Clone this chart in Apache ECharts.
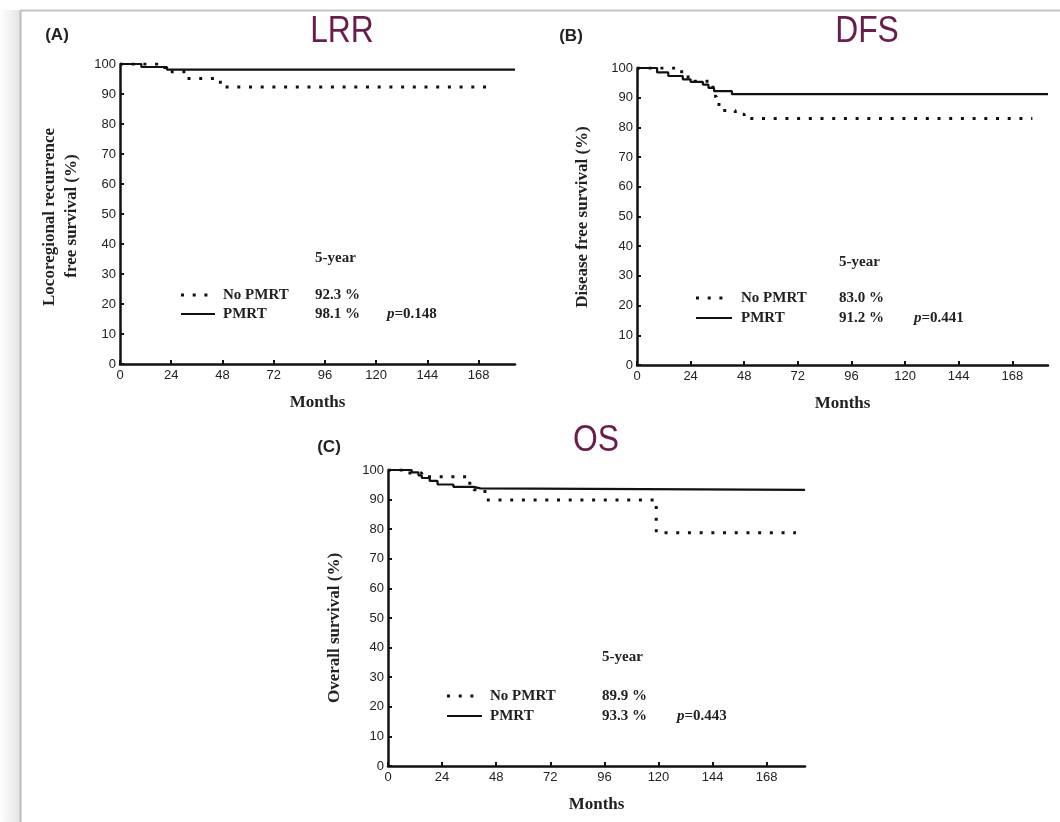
<!DOCTYPE html>
<html>
<head>
<meta charset="utf-8">
<title>Kaplan-Meier curves: LRR, DFS, OS by PMRT</title>
<script src="https://cdn.jsdelivr.net/npm/echarts@6/dist/echarts.min.js"></script>
<style>
  html, body { margin: 0; padding: 0; background: #fff; }
  #chart { width: 1060px; height: 822px; }
</style>
</head>
<body>
<div id="chart"></div>
<script>
// Month ticks shared by all three panels
const monthTicks = [0, 24, 48, 72, 96, 120, 144, 168];

// (A) Locoregional recurrence free survival: [month, %]
const lrrNoPmrt = [[0, 100], [21, 97.4], [31, 95.2], [47, 92.3], [173, 92.3]];
const lrrPmrt = [[0, 100], [10, 99.0], [22, 98.1], [185, 98.1]];

// (B) Disease free survival
const dfsNoPmrt = [[0, 100], [20, 97], [25, 95.5], [34, 90.5], [35.5, 87.7], [37.5, 85.7], [44, 84.4], [48, 83.0], [177, 83.0]];
const dfsPmrt = [[0, 100], [9, 98.5], [14, 97.3], [20.5, 96.2], [24, 95.3], [29.5, 94.4], [32, 93.3], [34.5, 92.2], [42.5, 91.2], [184, 91.2]];

// (C) Overall survival
const osNoPmrt = [[0, 100], [9, 99.0], [15, 97.7], [35, 95.5], [38, 93.3], [43, 89.9], [119, 78.8], [181, 78.8]];
const osPmrt = [[0, 100], [10.5, 99.2], [13.5, 98.2], [15, 97.3], [18.5, 96.3], [22, 95.1], [29, 94.3], [38, 93.8], [41, 93.3], [185, 93.3]];

// 5-year rates and log-rank p values printed in each panel
const fiveYearNoPmrt = ['92.3 %', '83.0 %', '89.9 %'];
const fiveYearPmrt = ['98.1 %', '91.2 %', '93.3 %'];
const pValues = ['0.148', '0.441', '0.443'];
const panelTitles = ['LRR', 'DFS', 'OS'];
const panelLetters = ['(A)', '(B)', '(C)'];
const yTitles = [['Locoregional recurrence', 'free survival (%)'], ['Disease free survival (%)'], ['Overall survival (%)']];

const SERIF = '"Liberation Serif", "Times New Roman", serif';
const SANS = '"Liberation Sans", Arial, sans-serif';

// Panel geometry
const panels = [
  { left: 120, top: 64, width: 395, height: 300, max: 185 },
  { left: 637, top: 68, width: 411, height: 297, max: 184 },
  { left: 388, top: 470, width: 417, height: 296, max: 185 }
];

const grids = panels.map(p => ({
  left: p.left, top: p.top, width: p.width, height: p.height,
  containLabel: false, outerBoundsMode: 'none'
}));

const xAxes = panels.map((p, i) => ({
  type: 'value', gridIndex: i, min: 0, max: p.max, interval: 24,
  name: 'Months', nameLocation: 'middle', nameGap: 30,
  nameTextStyle: { fontFamily: SERIF, fontWeight: 'bold', fontSize: 17, color: '#222' },
  axisLine: { show: true, onZero: false, lineStyle: { color: '#111', width: 2.5 } },
  axisTick: { show: true, inside: true, length: 4, lineStyle: { color: '#111', width: 2 }, customValues: monthTicks },
  axisLabel: { fontFamily: SANS, fontSize: 13, color: '#222', margin: 5, customValues: monthTicks },
  splitLine: { show: false }
}));

const yAxes = panels.map((p, i) => ({
  type: 'value', gridIndex: i, min: 0, max: 100, interval: 10,
  axisLine: { show: true, onZero: false, lineStyle: { color: '#111', width: 2.5 } },
  axisTick: { show: true, inside: true, length: 4, lineStyle: { color: '#111', width: 2 } },
  axisLabel: { fontFamily: SANS, fontSize: 13, color: '#222', margin: 4 },
  splitLine: { show: false }
}));

function curve(data, idx, dotted) {
  return {
    type: 'line', xAxisIndex: idx, yAxisIndex: idx, data: data,
    step: 'end', symbol: 'none', silent: true, animation: false,
    lineStyle: dotted
      ? { color: '#111', width: 3, type: [3, 8.7], cap: 'butt' }
      : { color: '#111', width: 2.2 }
  };
}

const series = [
  curve(lrrNoPmrt, 0, true), curve(lrrPmrt, 0, false),
  curve(dfsNoPmrt, 1, true), curve(dfsPmrt, 1, false),
  curve(osNoPmrt, 2, true), curve(osPmrt, 2, false)
];

// Text placement for each panel: title, letter, y title, legend block
const layout = [
  { title: [342, 32], letter: [57, 35], yTitle: [[50, 217], [72, 216]],
    year: [315, 258], rowNo: 295, rowP: 314, label: 223, value: 315, p: 387, lineX: [182, 206, 215] },
  { title: [867, 32], letter: [571, 36], yTitle: [[583, 217]],
    year: [839, 262], rowNo: 298, rowP: 318, label: 741, value: 839, p: 914, lineX: [697, 722, 732] },
  { title: [596, 441], letter: [329, 447], yTitle: [[335, 628]],
    year: [602, 657], rowNo: 696, rowP: 716, label: 490, value: 602, p: 677, lineX: [448, 472, 482] }
];

const graphics = [];
// page frame: soft shadow on the left, thin grey rules
graphics.push({
  type: 'rect', shape: { x: 0, y: 10, width: 20, height: 812 }, silent: true,
  style: { fill: { type: 'linear', x: 0, y: 0, x2: 1, y2: 0, colorStops: [{ offset: 0, color: '#ffffff' }, { offset: 1, color: '#e4e4e4' }] } }
});
graphics.push({ type: 'line', shape: { x1: 20.5, y1: 10, x2: 20.5, y2: 822 }, style: { stroke: '#bdbdbd', lineWidth: 2 }, silent: true });
graphics.push({ type: 'line', shape: { x1: 20, y1: 10.5, x2: 1060, y2: 10.5 }, style: { stroke: '#c4c4c4', lineWidth: 2 }, silent: true });

layout.forEach((L, i) => {
  graphics.push({
    type: 'text', x: L.title[0], y: L.title[1], scaleX: 0.86, silent: true,
    style: { text: panelTitles[i], font: '37px ' + SANS, fill: '#6b1c4c', textAlign: 'center', textVerticalAlign: 'middle', align: 'center', verticalAlign: 'middle' }
  });
  graphics.push({
    type: 'text', x: L.letter[0], y: L.letter[1], silent: true,
    style: { text: panelLetters[i], font: 'bold 17px ' + SANS, fill: '#222', textAlign: 'center', textVerticalAlign: 'middle', align: 'center', verticalAlign: 'middle' }
  });
  yTitles[i].forEach((t, k) => {
    graphics.push({
      type: 'text', x: L.yTitle[k][0], y: L.yTitle[k][1], rotation: Math.PI / 2, silent: true,
      style: { text: t, font: 'bold 17px ' + SERIF, fill: '#222', textAlign: 'center', textVerticalAlign: 'middle', align: 'center', verticalAlign: 'middle' }
    });
  });
  const txt = (s, x, y) => ({
    type: 'text', x: x, y: y, silent: true,
    style: { text: s, font: 'bold 15px ' + SERIF, fill: '#222', textAlign: 'left', textVerticalAlign: 'middle', align: 'left', verticalAlign: 'middle' }
  });
  graphics.push(txt('5-year', L.year[0], L.year[1]));
  graphics.push(txt('No PMRT', L.label, L.rowNo));
  graphics.push(txt('PMRT', L.label, L.rowP));
  graphics.push(txt(fiveYearNoPmrt[i], L.value, L.rowNo));
  graphics.push(txt(fiveYearPmrt[i], L.value, L.rowP));
  graphics.push({
    type: 'text', x: L.p, y: L.rowP, silent: true,
    style: {
      text: '{i|p}=' + pValues[i], font: 'bold 15px ' + SERIF, fill: '#222',
      textAlign: 'left', textVerticalAlign: 'middle', align: 'left', verticalAlign: 'middle',
      rich: { i: { fontStyle: 'italic', fontWeight: 'bold', fontFamily: SERIF, fontSize: 15, fill: '#222' } }
    }
  });
  // legend keys
  graphics.push({
    type: 'line', silent: true,
    shape: { x1: L.lineX[0] - 1, y1: L.rowNo, x2: L.lineX[1] + 2, y2: L.rowNo },
    style: { stroke: '#111', lineWidth: 3, lineDash: [3, 8.7], lineCap: 'butt' }
  });
  graphics.push({
    type: 'line', silent: true,
    shape: { x1: L.lineX[0] - 1, y1: L.rowP, x2: L.lineX[2], y2: L.rowP },
    style: { stroke: '#111', lineWidth: 2.2 }
  });
});

const chart = echarts.init(document.getElementById('chart'), null, { renderer: 'canvas' });
chart.setOption({
  animation: false,
  backgroundColor: '#ffffff',
  grid: grids,
  xAxis: xAxes,
  yAxis: yAxes,
  series: series,
  graphic: { elements: graphics }
});
</script>
</body>
</html>
